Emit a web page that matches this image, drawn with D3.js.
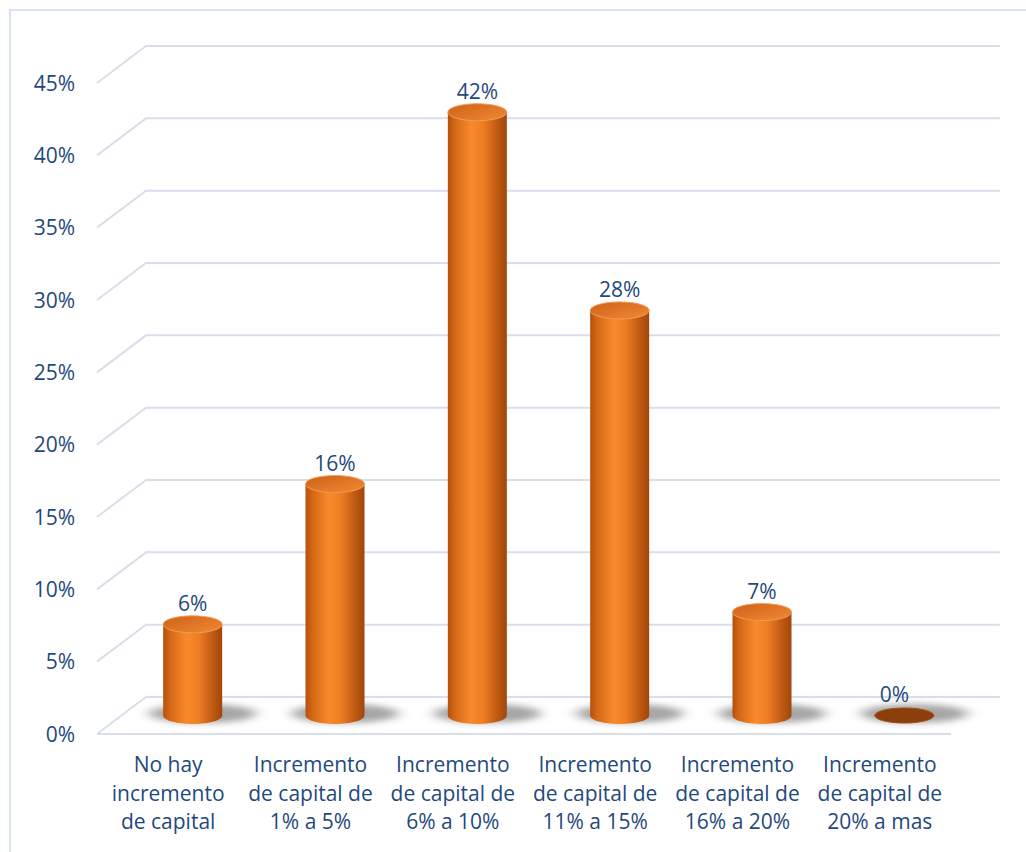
<!DOCTYPE html>
<html>
<head>
<meta charset="utf-8">
<script src="https://cdn.jsdelivr.net/npm/d3@7"></script>
<style>
  html, body { margin: 0; padding: 0; background: #ffffff; }
  svg { display: block; }
  text { font-family: "Open Sans", "Liberation Sans", sans-serif; fill: #1F497D; }
</style>
</head>
<body>
<svg id="chart" width="1026" height="852"></svg>
<script>
// ---- data ----
const categories = [
  ["No hay", "incremento", "de capital"],
  ["Incremento", "de capital de", "1% a 5%"],
  ["Incremento", "de capital de", "6% a 10%"],
  ["Incremento", "de capital de", "11% a 15%"],
  ["Incremento", "de capital de", "16% a 20%"],
  ["Incremento", "de capital de", "20% a mas"]
];
const values = [0.063, 0.160, 0.417, 0.280, 0.0715, 0.0];
const valueLabels = ["6%", "16%", "42%", "28%", "7%", "0%"];
const yTicks = [0, 0.05, 0.10, 0.15, 0.20, 0.25, 0.30, 0.35, 0.40, 0.45];

// ---- layout ----
const svg = d3.select("#chart");
const backLeft = 146, backRight = 1000;
const depthDx = -49, depthDy = 37;
const y = d3.scaleLinear().domain([0, 0.45]).range([697, 46]);
const x = d3.scaleBand().domain(d3.range(categories.length)).range([backLeft, backRight]).padding(0);
const fmt = d3.format(".0%");

// outer border
svg.append("rect").attr("x", 10).attr("y", 10).attr("width", 1030).attr("height", 860)
  .attr("fill", "none").attr("stroke", "#dae3f3").attr("stroke-width", 2);

const defs = svg.append("defs");
const bodyGrad = defs.append("linearGradient").attr("id", "bodyGrad").attr("x1", "0").attr("x2", "1").attr("y1", "0").attr("y2", "0");
[[0, "#b4510e"], [0.12, "#d46817"], [0.4, "#f98a2b"], [0.6, "#ee7d23"], [0.85, "#bd5811"], [1, "#a0460c"]]
  .forEach(([o, c]) => bodyGrad.append("stop").attr("offset", o).attr("stop-color", c));
const topGrad = defs.append("linearGradient").attr("id", "topGrad").attr("x1", "0").attr("x2", "1").attr("y1", "0").attr("y2", "1");
[[0, "#cc6218"], [0.5, "#e07526"], [1, "#f08a35"]]
  .forEach(([o, c]) => topGrad.append("stop").attr("offset", o).attr("stop-color", c));
const blur = defs.append("filter").attr("id", "shadowBlur").attr("x", "-50%").attr("y", "-100%").attr("width", "200%").attr("height", "300%");
blur.append("feGaussianBlur").attr("stdDeviation", "7 3");

// gridlines (perspective)
const grid = svg.append("g").attr("stroke", "#d9dfea").attr("stroke-width", 2).attr("fill", "none");
yTicks.forEach(t => {
  const yb = y(t);
  grid.append("path")
    .attr("d", `M${backLeft + depthDx},${yb + depthDy} L${backLeft},${yb} L${backRight},${yb}`);
});
// floor front edge
grid.append("line")
  .attr("x1", backLeft + depthDx).attr("y1", y(0) + depthDy)
  .attr("x2", backRight + depthDx).attr("y2", y(0) + depthDy);

// y-axis labels
svg.append("g").selectAll("text").data(yTicks).join("text")
  .attr("x", 75).attr("y", d => y(d) + depthDy + 2)
  .attr("text-anchor", "end").attr("dominant-baseline", "middle")
  .attr("font-size", 21)
  .text(d => fmt(d));

// bars (cylinders)
const rx = 29.5, ry = 8.5;
const midDx = depthDx / 2, midDy = depthDy / 2;
const bars = svg.append("g");
values.forEach((v, i) => {
  const cx = x(i) + x.bandwidth() / 2 + midDx;
  const baseY = y(0) + midDy;
  const topY = y(v) + midDy;
  const g = bars.append("g");
  // shadow on floor
  g.append("ellipse")
    .attr("cx", cx + 10).attr("cy", baseY - 2)
    .attr("rx", rx + 24).attr("ry", ry + 1)
    .attr("fill", "#6a6a6a").attr("opacity", 0.6)
    .attr("filter", "url(#shadowBlur)");
  if (v > 0.001) {
    g.append("path")
      .attr("d", `M${cx - rx},${topY} L${cx - rx},${baseY} A${rx},${ry} 0 0 0 ${cx + rx},${baseY} L${cx + rx},${topY} Z`)
      .attr("fill", "url(#bodyGrad)");
    g.append("ellipse")
      .attr("cx", cx).attr("cy", topY).attr("rx", rx).attr("ry", ry)
      .attr("fill", "url(#topGrad)")
      .attr("stroke", "#f39a55").attr("stroke-width", 1);
  } else {
    g.append("ellipse")
      .attr("cx", cx).attr("cy", topY).attr("rx", rx).attr("ry", ry - 1)
      .attr("fill", "#8a3f0c").attr("stroke", "#a0500f").attr("stroke-width", 1);
  }
  svg.append("text")
    .attr("x", v > 0.001 ? cx : cx - 10).attr("y", topY - ry - 5)
    .attr("text-anchor", "middle").attr("font-size", 21)
    .text(valueLabels[i]);
});

// x-axis category labels
const xl = svg.append("g");
categories.forEach((lines, i) => {
  const cx = x(i) + x.bandwidth() / 2 + depthDx;
  const t = xl.append("text").attr("text-anchor", "middle").attr("font-size", 21);
  lines.forEach((ln, k) => {
    t.append("tspan").attr("x", cx).attr("y", 772 + k * 28.5).text(ln);
  });
});
</script>
</body>
</html>
